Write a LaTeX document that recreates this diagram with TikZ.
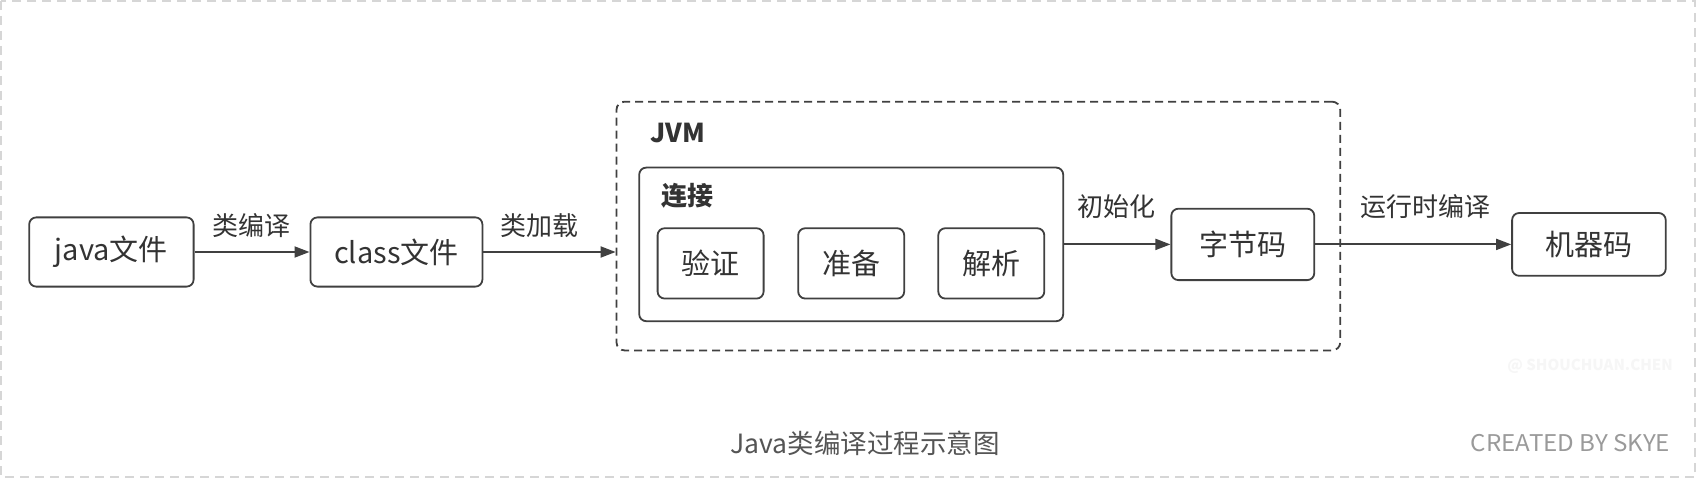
\documentclass[tikz,border=0pt]{standalone}
\usepackage{fontspec}
\setmainfont{Noto Sans CJK SC}
\usetikzlibrary{arrows.meta}
\definecolor{ln}{HTML}{404040}
\definecolor{txt}{HTML}{333333}
\definecolor{frame}{HTML}{D6D6D6}
\definecolor{capc}{HTML}{555555}
\definecolor{credc}{HTML}{9A9A9A}
\definecolor{wmark}{HTML}{F6F6F6}
\begin{document}
\begin{tikzpicture}[x=1pt,y=-1pt,
  box/.style={draw=ln, line width=1.8pt, rounded corners=7pt, text=txt,
    font=\fontsize{29}{32}\selectfont, inner sep=0pt},
  arr/.style={draw=ln, line width=1.8pt, -{Triangle[length=15pt,width=11pt]}},
  lbl/.style={text=txt, font=\fontsize{26}{30}\selectfont, inner sep=0pt}]
\useasboundingbox (0,0) rectangle (1696,478);
\fill[white] (0,0) rectangle (1696,478);
\draw[frame, line width=2pt, dash pattern=on 9pt off 6pt] (1,1) rectangle (1695,477);

% JVM container
\node[draw=ln, line width=1.8pt, rounded corners=8pt, dash pattern=on 8pt off 5pt,
  minimum width=723.7pt, minimum height=248.7pt, inner sep=0pt] (jvm) at (978.35,226.05) {};
\node[text=txt, font=\fontsize{26}{30}\selectfont\bfseries, inner sep=0pt] (jvmlbl) at (678,133) {JVM};

% link container
\node[box, minimum width=424pt, minimum height=153.6pt] (link) at (851.2,244.4) {};
\node[text=txt, font=\fontsize{26}{30}\selectfont\bfseries, inner sep=0pt] (linklbl) at (687,196) {连接};

\node[box, minimum width=106pt, minimum height=70.3pt] (verify) at (710.6,263.4) {验证};
\node[box, minimum width=106pt, minimum height=70.3pt] (prepare) at (851.2,263.4) {准备};
\node[box, minimum width=106pt, minimum height=70.3pt] (resolve) at (991.3,263.4) {解析};

% main chain
\node[box, minimum width=164.4pt, minimum height=69.2pt] (java) at (111.4,252) {java文件};
\node[box, minimum width=172pt, minimum height=69.2pt] (class) at (396.4,252) {class文件};
\node[box, minimum width=142.9pt, minimum height=71.4pt] (byte) at (1242.8,244.4) {字节码};
\node[box, minimum width=153.6pt, minimum height=62.8pt] (machine) at (1588.9,244.4) {机器码};

\draw[arr] (java) -- (class);
\coordinate (jvmin) at (class.east -| jvm.west);
\draw[arr] (class.east) -- (jvmin);
\draw[arr] (link.east) -- (byte.west);
\draw[arr] (byte.east) -- (machine.west);

\node[lbl] (l1) at (251,226) {类编译};
\node[lbl] (l2) at (539.7,226) {类加载};
\node[lbl] (l3) at (1116,206.6) {初始化};
\node[lbl] (l4) at (1425.5,206.6) {运行时编译};

% captions
\node[text=capc, font=\fontsize{26.5}{30}\selectfont, inner sep=0pt] (cap) at (865,443.5) {Java类编译过程示意图};
\node[text=credc, font=\fontsize{23}{26}\selectfont, inner sep=0pt, xscale=1.05] (cred) at (1570.5,443.5) {CREATED BY SKYE};
\node[text=wmark, font=\fontsize{15}{18}\selectfont\bfseries, inner sep=0pt] (wm) at (1590,366.7) {@ SHOUCHUAN.CHEN};
\end{tikzpicture}
\end{document}
